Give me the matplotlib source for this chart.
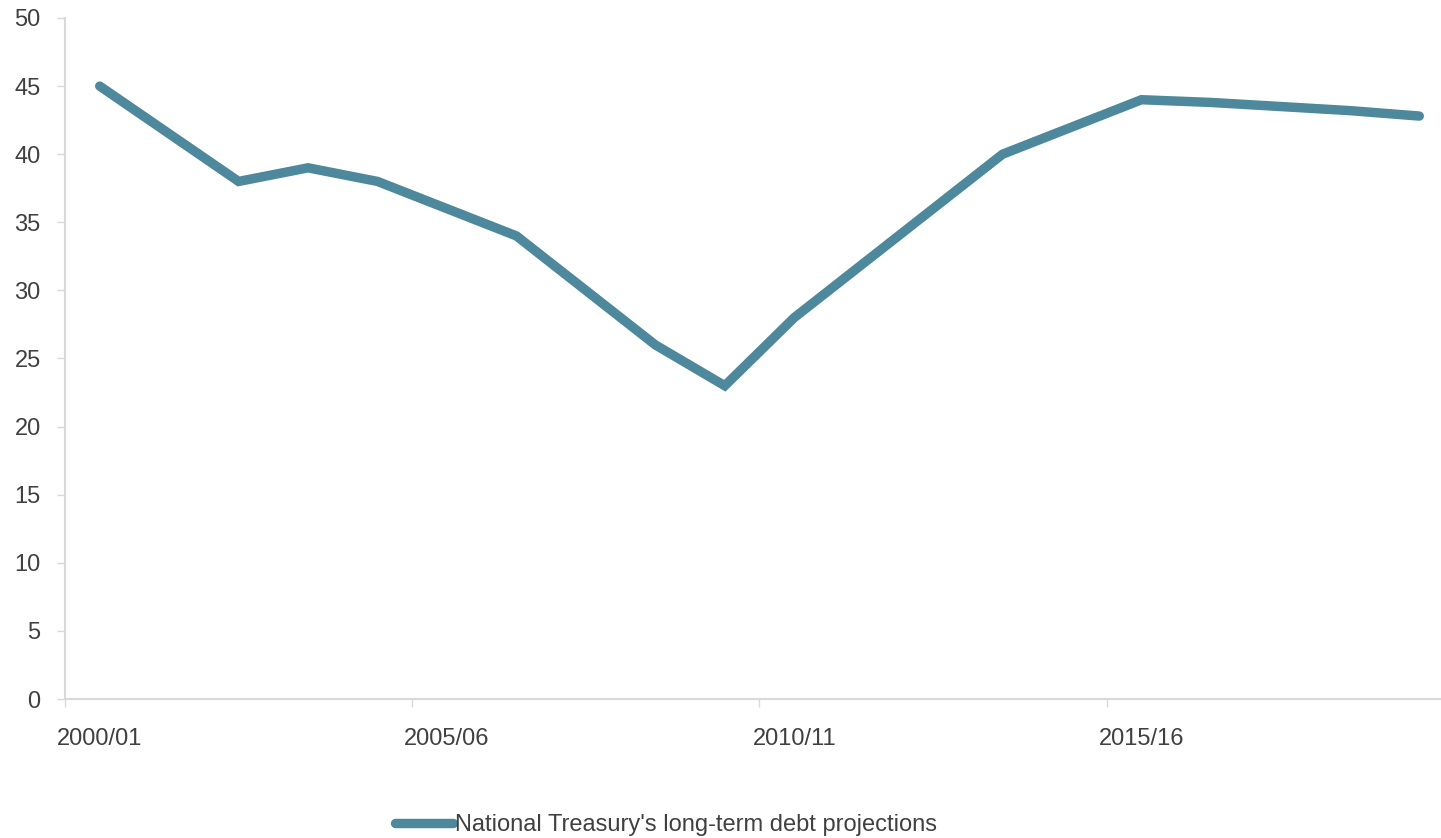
import matplotlib
matplotlib.use("Agg")
import matplotlib.pyplot as plt
from matplotlib.ticker import FixedLocator, NullFormatter, FixedFormatter

plt.rcParams['font.family'] = ['Liberation Sans', 'DejaVu Sans']

# Fiscal years on the category axis (2000/01 .. 2019/20)
years = [f"{y}/{(y + 1) % 100:02d}" for y in range(2000, 2020)]

# Debt projection (% of GDP) for the years that carry a value
point_years = ["2000/01", "2002/03", "2003/04", "2004/05", "2006/07",
               "2008/09", "2009/10", "2010/11", "2013/14", "2015/16",
               "2016/17", "2017/18", "2018/19", "2019/20"]
debt = [45, 38, 39, 38, 34, 26, 23, 28, 40, 44, 43.8, 43.5, 43.2, 42.8]

label_years = ["2000/01", "2005/06", "2010/11", "2015/16"]
series_name = "National Treasury's long-term debt projections"

line_color = "#4d889c"
grid_color = "#d9d9d9"
text_color = "#404040"
fs = 17

W, H = 1441, 838
fig = plt.figure(figsize=(W / 100, H / 100), dpi=100)
ax = fig.add_axes([65 / W, (H - 699) / H, 1 - 65 / W, (699 - 18) / H])

xs = [years.index(y) for y in point_years]
ax.plot(xs, debt, color=line_color, lw=6.8, solid_capstyle='round',
        solid_joinstyle='miter', label=series_name)

ax.set_ylim(0, 50)
ax.set_xlim(-0.5, -0.5 + (W - 65) / 69.45)
ax.set_yticks(range(0, 51, 5))

# tick marks on category boundaries, labels on category centres
label_pos = [years.index(y) for y in label_years]
ax.xaxis.set_major_locator(FixedLocator([p - 0.5 for p in label_pos]))
ax.xaxis.set_major_formatter(NullFormatter())
ax.xaxis.set_minor_locator(FixedLocator(label_pos))
ax.xaxis.set_minor_formatter(FixedFormatter(label_years))
ax.tick_params(axis='x', which='major', length=6, width=1, color=grid_color)
ax.tick_params(axis='x', which='minor', length=0, pad=21, labelsize=fs,
               labelcolor=text_color)
ax.tick_params(axis='y', length=5.5, width=1, color=grid_color, pad=12,
               labelsize=fs, labelcolor=text_color)

for side in ['top', 'right']:
    ax.spines[side].set_visible(False)
for side in ['left', 'bottom']:
    ax.spines[side].set_color(grid_color)
    ax.spines[side].set_linewidth(1.5)

fig.legend(loc='center', bbox_to_anchor=(666 / W, (H - 825) / H),
           frameon=False, fontsize=fs, handlelength=2.45, handletextpad=0.05,
           borderpad=0, labelcolor=text_color)

fig.savefig("out.png", dpi=100)
